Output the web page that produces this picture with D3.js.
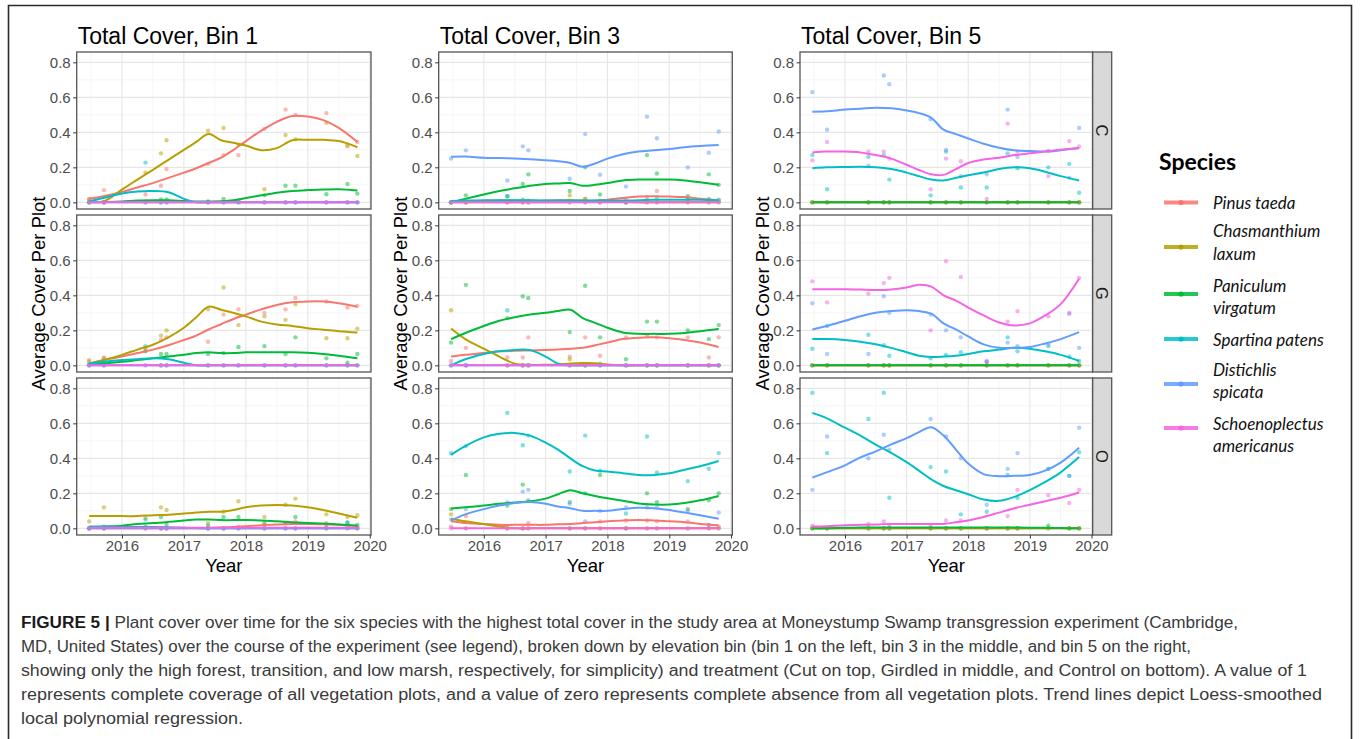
<!DOCTYPE html>
<html>
<head>
<meta charset="utf-8">
<script src="https://cdn.jsdelivr.net/npm/d3@7"></script>
<style>
  body { margin: 0; background: #fff; }
  svg { display: block; }
</style>
</head>
<body>
<svg id="fig" width="1360" height="739"></svg>
<script>
// ---------- data ----------
const species = ["Pinus taeda", "Chasmanthium laxum", "Paniculum virgatum",
                 "Spartina patens", "Distichlis spicata", "Schoenoplectus americanus"];
const legendLabels = [["Pinus taeda"], ["Chasmanthium", "laxum"], ["Paniculum", "virgatum"],
                      ["Spartina patens"], ["Distichlis", "spicata"], ["Schoenoplectus", "americanus"]];
const speciesColors = ["#F8766D", "#B79F00", "#00BA38", "#00BFC4", "#619CFF", "#F564E3"];
const binTitles = ["Total Cover, Bin 1", "Total Cover, Bin 3", "Total Cover, Bin 5"];
const treatments = ["C", "G", "O"];
const yTicks = [0, 0.2, 0.4, 0.6, 0.8];
const xTicks = [2016, 2017, 2018, 2019, 2020];

// survey dates (decimal year) of the plot averages
const surveyDates = [2015.47, 2015.71, 2016.38, 2016.63, 2016.72, 2017.39, 2017.64,
                     2017.88, 2018.30, 2018.64, 2018.80, 2019.30, 2019.64, 2019.80];
// years at which the loess trend values are listed
const trendYears = [2015.47, 2015.7, 2016.0, 2016.25, 2016.5, 2016.75, 2017.0, 2017.2, 2017.4,
                    2017.6, 2017.8, 2018.0, 2018.25, 2018.5, 2018.75, 2019.0, 2019.25, 2019.5, 2019.8];

// trend values per species (order as in `species`), bin 1
const bin1C_trend = [
  [0.02,0.035,0.06,0.085,0.11,0.14,0.17,0.195,0.225,0.255,0.3,0.35,0.41,0.46,0.493,0.49,0.47,0.425,0.345],
  [0.01,0.005,0.073,0.13,0.186,0.243,0.3,0.345,0.39,0.355,0.34,0.325,0.298,0.31,0.355,0.357,0.357,0.35,0.315],
  [0,0.002,0.005,0.01,0.012,0.012,0.008,0.005,0.005,0.006,0.012,0.025,0.04,0.055,0.065,0.07,0.073,0.075,0.068],
  [0.005,0.025,0.05,0.062,0.065,0.058,0.02,0,0,0,0,0,0,0,0,0,0,0,0],
  [0,0,0,0,0,0,0,0,0,0,0,0,0,0,0,0,0,0,0],
  [0,0,0,0,0,0,0,0,0,0,0,0,0,0,0,0,0,0,0]
];
const bin1G_trend = [
  [0.01,0.03,0.05,0.07,0.09,0.115,0.145,0.17,0.205,0.235,0.265,0.29,0.32,0.345,0.36,0.365,0.365,0.355,0.335],
  [0.01,0.03,0.06,0.09,0.118,0.16,0.215,0.275,0.335,0.318,0.3,0.28,0.25,0.233,0.225,0.212,0.204,0.195,0.187],
  [0.005,0.01,0.02,0.03,0.04,0.05,0.06,0.07,0.075,0.07,0.07,0.075,0.075,0.075,0.075,0.072,0.065,0.055,0.04],
  [0.01,0.02,0.03,0.035,0.04,0.035,0.015,0,0,0,0,0,0,0,0,0,0,0,0],
  [0,0,0,0,0,0,0,0,0,0,0,0,0,0,0,0,0,0,0],
  [0,0,0,0,0,0,0,0,0,0,0,0,0,0,0,0,0,0,0]
];
const bin1O_trend = [
  [0,0,0,0,0,0,0,0,0.002,0.005,0.008,0.012,0.018,0.022,0.025,0.025,0.023,0.02,0.015],
  [0.07,0.07,0.07,0.07,0.075,0.078,0.085,0.09,0.095,0.095,0.105,0.12,0.13,0.133,0.13,0.12,0.105,0.085,0.06],
  [0.005,0.01,0.015,0.025,0.03,0.037,0.045,0.05,0.05,0.047,0.047,0.047,0.045,0.04,0.035,0.03,0.027,0.022,0.015],
  [0.01,0.01,0.008,0.008,0.007,0.006,0.004,0.002,0,0,0,0,0,0,0,0,0,0,0],
  [0,0,0,0,0,0,0,0,0,0,0,0,0,0,0,0,0,0,0],
  [0.004,0.004,0.004,0.004,0.004,0.004,0.004,0.004,0.004,0.004,0.004,0.004,0.004,0.004,0.004,0.004,0.004,0.004,0.004]
];

// trend values, bin 3
const bin3C_trend = [
  [0,0,0,0,0,0,0,0,0.002,0.005,0.01,0.015,0.025,0.033,0.035,0.033,0.03,0.02,0.012],
  [0.005,0.005,0.008,0.01,0.01,0.01,0.01,0.012,0.012,0.01,0.008,0.005,0.003,0,0,0,0,0,0],
  [0,0.02,0.045,0.065,0.08,0.095,0.105,0.108,0.11,0.095,0.1,0.11,0.125,0.13,0.13,0.13,0.125,0.115,0.1],
  [0.008,0.01,0.012,0.012,0.012,0.012,0.01,0.01,0.01,0.01,0.01,0.01,0.01,0.012,0.015,0.015,0.015,0.015,0.012],
  [0.26,0.262,0.255,0.253,0.25,0.246,0.24,0.235,0.225,0.203,0.222,0.25,0.275,0.29,0.297,0.305,0.315,0.322,0.328],
  [0,0,0,0,0,0,0,0,0,0,0,0,0,0,0,0,0,0,0]
];
const bin3G_trend = [
  [0.05,0.06,0.07,0.08,0.083,0.085,0.087,0.09,0.095,0.1,0.115,0.13,0.15,0.158,0.16,0.155,0.145,0.13,0.105],
  [0.21,0.15,0.095,0.05,0.01,0.003,0.003,0.005,0.01,0.013,0.012,0.005,0,0,0,0,0,0,0],
  [0.15,0.185,0.225,0.255,0.275,0.29,0.3,0.31,0.318,0.27,0.243,0.215,0.188,0.18,0.18,0.18,0.185,0.195,0.207],
  [0,0.035,0.065,0.08,0.088,0.087,0.05,0.01,0,0,0,0,0,0,0,0,0,0,0],
  [0,0,0,0,0,0,0,0,0,0,0,0,0,0,0,0,0,0,0],
  [0,0,0,0,0,0,0,0,0,0,0,0,0,0,0,0,0,0,0]
];
const bin3O_trend = [
  [0.04,0.03,0.025,0.02,0.02,0.02,0.02,0.023,0.025,0.03,0.035,0.04,0.045,0.048,0.045,0.04,0.035,0.025,0.018],
  [0.055,0.04,0.025,0.01,0,0,0,0,0,0,0,0,0,0,0,0,0,0,0],
  [0.113,0.12,0.13,0.14,0.147,0.155,0.17,0.195,0.218,0.2,0.185,0.172,0.158,0.142,0.136,0.136,0.145,0.16,0.185],
  [0.42,0.47,0.52,0.54,0.545,0.53,0.49,0.45,0.4,0.355,0.33,0.325,0.315,0.305,0.305,0.315,0.335,0.355,0.385],
  [0.045,0.08,0.11,0.13,0.145,0.15,0.14,0.125,0.115,0.1,0.1,0.1,0.11,0.118,0.115,0.105,0.09,0.075,0.055],
  [0,0,0,0,0,0,0,0,0,0,0,0,0,0,0,0,0,0,0]
];

// trend values, bin 5
const bin5C_trend = [
  [0,0,0,0,0,0,0,0,0,0,0,0,0,0,0,0,0,0,0],
  [0,0,0,0,0,0,0,0,0,0,0,0,0,0,0,0,0,0,0],
  [0,0,0,0,0,0,0,0,0,0,0,0,0,0,0,0,0,0,0],
  [0.195,0.2,0.202,0.203,0.2,0.19,0.17,0.15,0.13,0.125,0.14,0.155,0.17,0.19,0.2,0.195,0.175,0.15,0.125],
  [0.518,0.52,0.53,0.535,0.54,0.537,0.525,0.51,0.483,0.415,0.39,0.365,0.335,0.312,0.297,0.293,0.29,0.298,0.31],
  [0.285,0.29,0.29,0.285,0.27,0.25,0.215,0.185,0.16,0.157,0.19,0.225,0.245,0.255,0.27,0.28,0.29,0.3,0.31]
];
const bin5G_trend = [
  [0,0,0,0,0,0,0,0,0,0,0,0,0,0,0,0,0,0,0],
  [0,0,0,0,0,0,0,0,0,0,0,0,0,0,0,0,0,0,0],
  [0,0,0,0,0,0,0,0,0,0,0,0,0,0,0,0,0,0,0],
  [0.15,0.15,0.145,0.135,0.12,0.1,0.075,0.055,0.048,0.05,0.055,0.065,0.08,0.09,0.1,0.095,0.08,0.06,0.025],
  [0.205,0.225,0.255,0.28,0.3,0.31,0.315,0.31,0.295,0.24,0.205,0.165,0.12,0.1,0.1,0.105,0.125,0.15,0.19],
  [0.435,0.435,0.435,0.433,0.43,0.433,0.445,0.46,0.45,0.4,0.37,0.33,0.285,0.245,0.228,0.24,0.285,0.35,0.495]
];
const bin5O_trend = [
  [0,0,0,0,0,0,0,0,0,0,0,0,0,0,0,0,0,0,0],
  [0,0,0,0,0,0,0,0,0,0,0,0,0,0,0,0,0,0,0],
  [0,0,0.003,0.005,0.005,0.005,0.005,0.005,0.005,0.005,0.005,0.005,0.005,0.005,0.005,0.004,0.003,0.002,0],
  [0.66,0.63,0.575,0.53,0.478,0.431,0.378,0.33,0.28,0.242,0.218,0.195,0.165,0.157,0.18,0.218,0.265,0.32,0.407],
  [0.29,0.32,0.36,0.405,0.44,0.48,0.515,0.55,0.578,0.53,0.45,0.37,0.31,0.298,0.3,0.305,0.33,0.375,0.46],
  [0.01,0.012,0.018,0.02,0.022,0.025,0.025,0.025,0.025,0.025,0.035,0.045,0.065,0.09,0.115,0.135,0.155,0.175,0.205]
];

// plot averages at each survey date, bin 1
const bin1C_points = [
  [0.02,0.07,0.045,0.095,0.19,0.22,0.27,0.27,0.42,0.53,0.5,0.51,0.33,0.345],
  [0.015,0,0.17,0.28,0.355,0.41,0.425,0.33,0.075,0.385,0.36,0.455,0.32,0.265],
  [0,0,0.005,0.017,0.017,0.005,0.02,0.01,0.04,0.095,0.095,0.046,0.105,0.05],
  [0,0,0.227,0,0,0,0,0,0,0,0,0,0,0],
  [0,0,0,0,0,0,0,0,0,0,0,0,0,0],
  [0,0,0,0,0,0,0,0,0,0,0,0,0,0]
];
const bin1G_points = [
  [0.02,0.045,0.085,0.145,0.16,0.135,0.29,0.32,0.3,0.32,0.385,0.365,0.33,0.34],
  [0.03,0.04,0.1,0.17,0.2,0.32,0.445,0.23,0.28,0.26,0.35,0.155,0.155,0.21],
  [0.005,0.01,0.08,0.065,0.065,0.065,0.07,0.105,0.11,0.065,0.16,0.04,0.015,0.065],
  [0,0,0.11,0,0,0,0,0,0,0,0,0,0,0],
  [0,0,0,0,0,0,0,0,0,0,0,0,0,0],
  [0,0,0,0,0,0,0,0,0,0,0,0,0,0]
];
const bin1O_points = [
  [0,0.01,0,0,0,0,0,0.01,0.02,0.03,0.04,0.03,0.01,0.01],
  [0.04,0.12,0.06,0.12,0.105,0.03,0.095,0.155,0.065,0.135,0.17,0.08,0.065,0.075],
  [0,0,0.01,0.065,0.02,0.015,0.065,0.065,0.03,0.03,0.065,0.02,0.03,0.02],
  [0,0,0.05,0,0,0,0,0,0,0,0,0,0.035,0],
  [0,0,0,0,0,0,0,0,0,0,0,0,0,0],
  [0,0,0,0,0,0,0,0,0,0,0,0,0,0]
];

// plot averages, bin 3
const bin3C_points = [
  [0,0,0,0,0,0,0.02,0,0.02,0.03,0.065,0.025,0.02,0.01],
  [0,0,0,0,0,0.04,0.02,0,0,0,0,0,0,0],
  [0,0.04,0.035,0.105,0.16,0.065,0.2,0.045,0,0.27,0.165,0.035,0.16,0.1],
  [0,0,0.035,0.015,0.01,0.01,0,0.01,0,0.01,0.03,0.02,0.015,0.015],
  [0.25,0.297,0.125,0.32,0.297,0.135,0.39,0.158,0.09,0.49,0.366,0.2,0.283,0.405],
  [0,0,0,0,0,0,0,0,0,0,0,0,0,0]
];
const bin3G_points = [
  [0.025,0.1,0.045,0.045,0.16,0.05,0.16,0.055,0.16,0.17,0.16,0.16,0.045,0.16],
  [0.315,0,0,0,0,0.035,0,0,0,0,0,0,0,0],
  [0.13,0.46,0.27,0.395,0.385,0.19,0.455,0.16,0.035,0.25,0.25,0.2,0.15,0.23],
  [0,0,0.315,0,0,0,0,0.01,0,0,0,0,0,0],
  [0,0,0,0,0,0,0,0,0,0,0,0,0,0],
  [0,0,0,0,0,0,0,0,0,0,0,0,0,0]
];
const bin3O_points = [
  [0.01,0.07,0,0,0.03,0,0,0.04,0.045,0.045,0.04,0.04,0.02,0.01],
  [0.08,0,0,0,0,0,0,0,0,0,0,0,0,0],
  [0.11,0.305,0.13,0.25,0.16,0.15,0.2,0.305,0,0.2,0.15,0.11,0.16,0.2],
  [0.43,0.47,0.66,0.475,0.53,0.325,0.53,0.33,0.085,0.525,0.32,0.27,0.34,0.43],
  [0.05,0.11,0.15,0.21,0.22,0.14,0.04,0.1,0.12,0.12,0.12,0.1,0.02,0.09],
  [0,0,0,0,0,0,0,0,0,0,0,0,0,0]
];

// plot averages, bin 5
const bin5C_points = [
  [0,0,0,0,0,0,0,0,0,0,0,0,0,0],
  [0,0,0,0,0,0,0,0,0,0,0,0,0,0],
  [0,0,0,0,0,0,0,0,0,0,0,0,0,0],
  [0.27,0.075,0.26,0.27,0.13,0.04,0.29,0.085,0.085,0.28,0.195,0.2,0.22,0.055],
  [0.63,0.415,0.21,0.725,0.675,0.475,0.3,0.15,0.16,0.53,0.26,0.295,0.14,0.425],
  [0.24,0.345,0.29,0.29,0.25,0.075,0.25,0.235,0.02,0.45,0.29,0.15,0.35,0.32]
];
const bin5G_points = [
  [0,0,0,0,0,0,0,0,0,0,0,0,0,0],
  [0,0,0,0,0,0,0,0,0,0,0,0,0,0],
  [0,0,0,0,0,0,0,0,0,0,0,0,0,0],
  [0.095,0.225,0.175,0.115,0.055,0.04,0.06,0.075,0.02,0.16,0.08,0.11,0.05,0.025],
  [0.355,0.065,0.065,0.395,0.3,0.29,0.2,0.16,0.025,0.13,0.11,0.12,0.295,0.1],
  [0.48,0.36,0.41,0.47,0.5,0.2,0.595,0.505,0.02,0.25,0.31,0.28,0.3,0.5]
];
const bin5O_points = [
  [0,0,0,0,0,0,0,0,0,0,0,0,0,0],
  [0,0,0,0,0,0,0,0,0,0,0,0,0,0],
  [0,0,0,0,0,0,0,0,0,0,0,0.015,0,0],
  [0.775,0.43,0.625,0.775,0.175,0.35,0.325,0.08,0.095,0.305,0.175,0.34,0.3,0.435],
  [0.22,0.525,0.4,0.535,0.45,0.625,0.525,0.4,0.135,0.34,0.43,0.34,0.3,0.575],
  [0.015,0,0.025,0.04,0.02,0.02,0.045,0.045,0,0.07,0.22,0.19,0.145,0.22]
];

const captionLead = "FIGURE 5 | ";
const captionLines = [
  "Plant cover over time for the six species with the highest total cover in the study area at Moneystump Swamp transgression experiment (Cambridge,",
  "MD, United States) over the course of the experiment (see legend), broken down by elevation bin (bin 1 on the left, bin 3 in the middle, and bin 5 on the right,",
  "showing only the high forest, transition, and low marsh, respectively, for simplicity) and treatment (Cut on top, Girdled in middle, and Control on bottom). A value of 1",
  "represents complete coverage of all vegetation plots, and a value of zero represents complete absence from all vegetation plots. Trend lines depict Loess-smoothed",
  "local polynomial regression."
];

// ---------- layout ----------
const trendsByPanel = [[bin1C_trend, bin1G_trend, bin1O_trend],
                       [bin3C_trend, bin3G_trend, bin3O_trend],
                       [bin5C_trend, bin5G_trend, bin5O_trend]];
const pointsByPanel = [[bin1C_points, bin1G_points, bin1O_points],
                       [bin3C_points, bin3G_points, bin3O_points],
                       [bin5C_points, bin5G_points, bin5O_points]];

const FONT = "'Liberation Sans', Arial, Helvetica, sans-serif";
const colLeft = [76.7, 438.7, 800];
const colWidth = [294.3, 293.6, 292.7];
const rowTop = [52, 215, 378];
const rowHeight = 157;
const stripWidth = 19;

const svg = d3.select("#fig");

// page frame
svg.append("path")
  .attr("d", "M8.5,739 V5.5 H1351.5 V739")
  .attr("fill", "none").attr("stroke", "#2b2b2b").attr("stroke-width", 1.6);

const x0 = d3.scaleLinear().domain([2015.27, 2020.02]);
const y0 = d3.scaleLinear().domain([-0.038, 0.859]).range([rowHeight, 0]);
const minorX = [2015.5, 2016.5, 2017.5, 2018.5, 2019.5];
const minorY = [0.1, 0.3, 0.5, 0.7];

colLeft.forEach((left, ci) => {
  const w = colWidth[ci];
  const x = x0.copy().range([0, w]);
  const y = y0;

  // column title
  svg.append("text")
    .attr("x", left + 1).attr("y", 43.5)
    .attr("font-family", FONT).attr("font-size", 23).attr("fill", "#000")
    .text(binTitles[ci]);

  // y axis title
  svg.append("text")
    .attr("transform", `translate(${left - 31.5},${(rowTop[0] + rowTop[2] + rowHeight) / 2}) rotate(-90)`)
    .attr("text-anchor", "middle")
    .attr("font-family", FONT).attr("font-size", 18.5).attr("fill", "#000")
    .text("Average Cover Per Plot");

  // x axis title
  svg.append("text")
    .attr("x", left + w / 2).attr("y", 572)
    .attr("text-anchor", "middle")
    .attr("font-family", FONT).attr("font-size", 18.5).attr("fill", "#000")
    .text("Year");

  treatments.forEach((tr, ri) => {
    const top = rowTop[ri];
    const g = svg.append("g").attr("transform", `translate(${left},${top})`);
    const clipId = `clip-${ci}-${ri}`;
    g.append("clipPath").attr("id", clipId)
      .append("rect").attr("width", w).attr("height", rowHeight);

    g.append("rect").attr("width", w).attr("height", rowHeight).attr("fill", "#fff");

    // grid
    const grid = g.append("g");
    grid.selectAll(".mx").data(minorX).join("line")
      .attr("x1", d => x(d)).attr("x2", d => x(d)).attr("y1", 0).attr("y2", rowHeight)
      .attr("stroke", "#f3f3f3").attr("stroke-width", 0.8);
    grid.selectAll(".my").data(minorY).join("line")
      .attr("x1", 0).attr("x2", w).attr("y1", d => y(d)).attr("y2", d => y(d))
      .attr("stroke", "#f3f3f3").attr("stroke-width", 0.8);
    grid.selectAll(".Mx").data(xTicks).join("line")
      .attr("x1", d => x(d)).attr("x2", d => x(d)).attr("y1", 0).attr("y2", rowHeight)
      .attr("stroke", "#e6e6e6").attr("stroke-width", 1.1);
    grid.selectAll(".My").data(yTicks).join("line")
      .attr("x1", 0).attr("x2", w).attr("y1", d => y(d)).attr("y2", d => y(d))
      .attr("stroke", "#e6e6e6").attr("stroke-width", 1.1);

    const plot = g.append("g").attr("clip-path", `url(#${clipId})`);
    const trends = trendsByPanel[ci][ri];
    const pts = pointsByPanel[ci][ri];

    // plot averages
    pts.forEach((vals, si) => {
      plot.append("g").selectAll("circle")
        .data(vals.map((v, k) => [surveyDates[k], v]))
        .join("circle")
        .attr("cx", d => x(d[0])).attr("cy", d => y(d[1])).attr("r", 2.2)
        .attr("fill", speciesColors[si]).attr("fill-opacity", 0.5);
    });

    // loess trend lines
    const line = d3.line()
      .x(d => x(d[0])).y(d => y(d[1]))
      .curve(d3.curveCatmullRom.alpha(0.5));
    trends.forEach((vals, si) => {
      plot.append("path")
        .datum(vals.map((v, k) => [trendYears[k], v]))
        .attr("d", line)
        .attr("fill", "none")
        .attr("stroke", speciesColors[si])
        .attr("stroke-width", 2)
        .attr("stroke-linejoin", "round");
    });

    // panel border
    g.append("rect").attr("x", 0).attr("y", 0).attr("width", w).attr("height", rowHeight)
      .attr("fill", "none").attr("stroke", "#555").attr("stroke-width", 1.3);

    // y axis
    const ya = g.append("g").call(
      d3.axisLeft(y).tickValues(yTicks).tickFormat(d3.format(".1f")).tickSize(3.5).tickPadding(2.5));
    ya.select(".domain").remove();
    ya.selectAll("line").attr("stroke", "#333");
    ya.selectAll("text").attr("font-family", FONT).attr("font-size", 15).attr("fill", "#4d4d4d");

    // x axis on the bottom row only
    if (ri === treatments.length - 1) {
      const xa = g.append("g").attr("transform", `translate(0,${rowHeight})`).call(
        d3.axisBottom(x).tickValues(xTicks).tickFormat(d3.format("d")).tickSize(3.5).tickPadding(2));
      xa.select(".domain").remove();
      xa.selectAll("line").attr("stroke", "#333");
      xa.selectAll("text").attr("font-family", FONT).attr("font-size", 15).attr("fill", "#4d4d4d");
    }

    // treatment strip on the right-hand column
    if (ci === colLeft.length - 1) {
      const s = g.append("g").attr("transform", `translate(${w},0)`);
      s.append("rect").attr("width", stripWidth).attr("height", rowHeight)
        .attr("fill", "#d9d9d9").attr("stroke", "#555").attr("stroke-width", 1.3);
      s.append("text")
        .attr("transform", `translate(${stripWidth / 2},${rowHeight / 2}) rotate(90)`)
        .attr("text-anchor", "middle").attr("dominant-baseline", "central")
        .attr("font-family", FONT).attr("font-size", 16.5).attr("fill", "#1a1a1a")
        .text(tr);
    }
  });
});

// ---------- legend ----------
const LFONT = "Lato, 'Open Sans', sans-serif";
const legend = svg.append("g");
legend.append("text")
  .attr("x", 1159).attr("y", 170)
  .attr("font-family", LFONT).attr("font-weight", "bold").attr("font-size", 23).attr("fill", "#000")
  .text("Species");
const keyY = [202.5, 247, 294, 339, 384, 428];
const labelLineY = [[202.5], [230.5, 253], [285, 307], [339], [369, 391.5], [423, 445]];
species.forEach((sp, i) => {
  legend.append("line")
    .attr("x1", 1164).attr("x2", 1198).attr("y1", keyY[i]).attr("y2", keyY[i])
    .attr("stroke", speciesColors[i]).attr("stroke-width", 4).attr("stroke-opacity", 0.85);
  legend.append("circle")
    .attr("cx", 1181).attr("cy", keyY[i]).attr("r", 2.6)
    .attr("fill", speciesColors[i]);
  legendLabels[i].forEach((t, j) => {
    legend.append("text")
      .attr("x", 1213).attr("y", labelLineY[i][j])
      .attr("dominant-baseline", "central")
      .attr("font-family", LFONT).attr("font-style", "italic").attr("font-size", 17).attr("fill", "#111")
      .text(t);
  });
});

// ---------- caption ----------
const capWidths = [1217, 1170, 1286, 1301, 222];
const capBase = [627.5, 651.5, 675.5, 699.5, 723.5];
captionLines.forEach((ln, i) => {
  const t = svg.append("text")
    .attr("x", 21).attr("y", capBase[i])
    .attr("font-family", FONT).attr("font-size", 16).attr("fill", "#3a3a3a")
    .attr("textLength", capWidths[i]).attr("lengthAdjust", "spacingAndGlyphs");
  if (i === 0) {
    t.append("tspan").attr("font-weight", "bold").attr("fill", "#1a1a1a").text(captionLead);
  }
  t.append("tspan").text(ln);
});
</script>
</body>
</html>
